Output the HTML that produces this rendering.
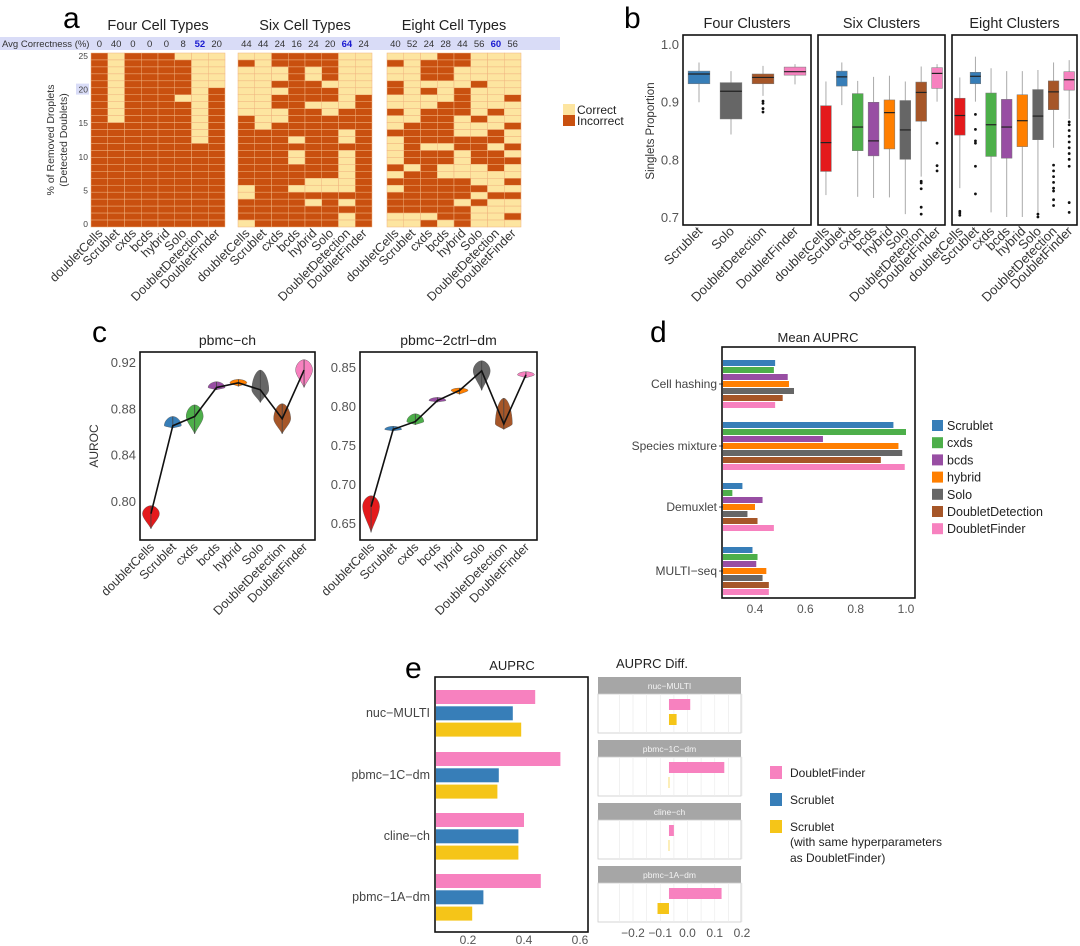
<!DOCTYPE html>
<html><head><meta charset="utf-8">
<style>
html,body{margin:0;padding:0;background:#fff;}
svg{display:block;font-family:"Liberation Sans",sans-serif;}
</style></head>
<body>
<svg id="fig" width="1080" height="946" viewBox="0 0 1080 946" xmlns="http://www.w3.org/2000/svg"></svg>
<script>
// ---------- DATA ----------
const methods = ["doubletCells","Scrublet","cxds","bcds","hybrid","Solo","DoubletDetection","DoubletFinder"];
const methodColors = ["#e41a1c","#377eb8","#4daf4a","#984ea3","#ff7f00","#666666","#a65628","#f781bf"];
// panel a
const heatTitles = ["Four Cell Types","Six Cell Types","Eight Cell Types"];
const avgFour = [0,40,0,0,0,8,52,20];
const avgSix = [44,44,24,16,24,20,64,24];
const avgEight = [40,52,24,28,44,56,60,56];
const heatFour = ["0000000000000000000000000","1111111111000000000000000","0000000000000000000000000","0000000000000000000000000","0000000000000000000000000","1000001000000000000000000","1111111111111000000000000","1111100000000000000000000"];
const heatSix = ["1011111110000000000110001","1111111111100000000000000","0011010011000000000000000","0000000000001011000100000","0011000100000000001101000","0000100110000000001100000","1111111100011011111101011","1111110000000000000000000"];
const heatEight = ["1011001101101111010100011","1111111111000000100000011","1000101100000100000000010","0000111000000100110000001","0011100001110011110001000","1111011110110000111010111","1111111101100100011101111","1111110111011010110101101"];
const heatYTicks = [0,5,10,15,20,25];
// panel b (median, q1, q3, low whisker, high whisker)
const boxFourMethods = [1,5,6,7];
const boxFour = [[.948,.931,.953,.899,.968],[.918,.870,.933,.843,.953],[.942,.931,.948,.91,.962],[.952,.946,.960,.93,.965]];
const outFour = [[],[],[.901,.897,.888,.882],[]];
const boxSix = [[.829,.779,.893,.738,.935],[.943,.927,.953,.894,.968],[.856,.815,.914,.735,.936],[.832,.806,.899,.733,.943],[.881,.818,.903,.734,.945],[.851,.800,.902,.705,.935],[.916,.866,.934,.77,.961],[.949,.923,.959,.90,.965]];
const outSix = [[],[],[],[],[],[],[.762,.759,.749,.717,.705],[.828,.789,.780]];
const boxEight = [[.876,.842,.906,.75,.942],[.944,.931,.951,.9,.978],[.860,.805,.915,.708,.958],[.856,.802,.904,.70,.953],[.867,.822,.912,.70,.953],[.875,.834,.921,.706,.955],[.917,.886,.936,.82,.968],[.938,.920,.952,.87,.972]];
const outEight = [[.71,.707,.703],[.878,.852,.832,.828,.788,.74],[],[],[],[.705,.700],[.79,.78,.77,.76,.75,.745,.73,.72],[.865,.86,.85,.84,.83,.82,.81,.80,.788,.725,.708]];
const boxTicks = [0.7,0.8,0.9,1.0];
// panel c (median, low, high)
const violinCh = [[.789,.776,.796],[.865,.863,.873],[.873,.858,.883],[.898,.896,.903],[.902,.899,.905],[.896,.885,.913],[.871,.858,.884],[.913,.898,.922]];
const violinDm = [[.671,.638,.685],[.770,.768,.774],[.780,.776,.790],[.807,.805,.811],[.820,.815,.823],[.845,.820,.858],[.777,.770,.810],[.840,.836,.844]];
const ticksCh = [0.80,0.84,0.88,0.92];
const ticksDm = [0.65,0.70,0.75,0.80,0.85];
// panel d
const dGroups = ["Cell hashing","Species mixture","Demuxlet","MULTI\u2212seq"];
const dHashing = [.48,.475,.53,.535,.555,.51,.48];
const dSpecies = [.95,1.0,.67,.97,.985,.90,.995];
const dDemuxlet = [.35,.31,.43,.40,.37,.41,.475];
const dMulti = [.39,.41,.405,.445,.43,.455,.455];
const dMethods = [1,2,3,4,5,6,7];
const dTicks = [0.4,0.6,0.8,1.0];
// panel e
const eGroups = ["nuc\u2212MULTI","pbmc\u22121C\u2212dm","cline\u2212ch","pbmc\u22121A\u2212dm"];
const eDoubletFinder = [.44,.53,.40,.46];
const eScrublet = [.36,.31,.38,.255];
const eScrubletSame = [.39,.305,.38,.215];
const eTicks = [0.2,0.4,0.6];
const diffDF = [0.01,0.135,-0.05,0.125];
const diffScrSame = [-0.04,-0.069,-0.069,-0.11];
const diffBase = -0.068;
const diffTicks = [-0.2,-0.1,0.0,0.1,0.2];

// ---------- HELPERS ----------
const NS = "http://www.w3.org/2000/svg";
const svg = document.getElementById("fig");
function el(tag, attrs, parent){
  const e = document.createElementNS(NS, tag);
  for (const k in attrs) e.setAttribute(k, attrs[k]);
  (parent||svg).appendChild(e);
  return e;
}
function txt(s, attrs, parent){
  const e = el("text", attrs, parent);
  e.textContent = s;
  return e;
}
function lin(d0,d1,r0,r1){ return v => r0 + (v-d0)/(d1-d0)*(r1-r0); }

// ---------- PANEL LETTERS ----------
[["a",63,28],["b",624,28],["c",92,342],["d",650,342],["e",405,678]].forEach(p=>{
  const t = txt(p[0], {x:p[1], y:p[2], "font-size":30, fill:"#000"});
  
  
});

// ---------- PANEL A ----------
const strip = el("rect",{x:0,y:37,width:560,height:13,fill:"#d9dcf7"});


const stripLbl = txt("Avg Correctness (%)",{x:2,y:47,"font-size":9.5,fill:"#333"});


const heatX0 = [91,238,387];
const heatW = 134, heatTop = 53, heatBot = 227;
const heatData = [heatFour, heatSix, heatEight];
const avgData = [avgFour, avgSix, avgEight];
const colW = heatW/8, nRows = 25, rowH = (heatBot-heatTop)/nRows;
heatData.forEach((hd,p)=>{
  const g = el("g",{});
  
  
  const tt = txt(heatTitles[p],{x:heatX0[p]+heatW/2, y:30, "text-anchor":"middle","font-size":14.5,fill:"#222"}, g);
  
  
  hd.forEach((col,c)=>{
    for (let r=0;r<nRows;r++){
      const cell = el("rect",{x:heatX0[p]+c*colW, y:heatTop+r*rowH, width:colW, height:rowH,
        fill: col[r]==="1" ? "#fde5a0" : "#c9500f", stroke:"#f0b27e","stroke-width":0.5}, g);
      
      
    }
    const cx = heatX0[p]+(c+0.5)*colW;
    const bold = c===6;
    const av = txt(String(avgData[p][c]),{x:cx,y:47,"text-anchor":"middle","font-size":9.5,
      fill: bold?"#1a1ad0":"#333","font-weight":bold?"bold":"normal"});
    
    
    const xl = txt(methods[c],{x:cx+4,y:234,"text-anchor":"end","font-size":12.5,fill:"#333",
      transform:`rotate(-45 ${cx+4} 234)`}, g);
    
    
  });
});
const hy = lin(0,25,224,56);
const hl = el("rect",{x:76,y:hy(20)-6,width:13,height:11,fill:"#d9dcf7"});


heatYTicks.forEach(v=>{
  const t = txt(String(v),{x:88,y:hy(v)+3,"text-anchor":"end","font-size":8.5,fill:"#444"});
  
  
});
const ay1 = txt("% of Removed Droplets",{x:0,y:0,"text-anchor":"middle","font-size":10.5,fill:"#333",transform:"translate(54 140) rotate(-90)"});


const ay2 = txt("(Detected Doublets)",{x:0,y:0,"text-anchor":"middle","font-size":10.5,fill:"#333",transform:"translate(67 140) rotate(-90)"});


[["#fde5a0","Correct",104],["#c9500f","Incorrect",115]].forEach(l=>{
  const r = el("rect",{x:563,y:l[2],width:12,height:11,fill:l[0]});
  
  
  const t = txt(l[1],{x:577,y:l[2]+10,"font-size":12,fill:"#222"});
  
  
});

// ---------- PANEL B ----------
const by = lin(0.7,1.0,217,44);
const bPanels = [
  {x0:683,x1:811,title:"Four Clusters",data:boxFour,out:outFour,idx:boxFourMethods},
  {x0:818,x1:945,title:"Six Clusters",data:boxSix,out:outSix,idx:[0,1,2,3,4,5,6,7]},
  {x0:952,x1:1077,title:"Eight Clusters",data:boxEight,out:outEight,idx:[0,1,2,3,4,5,6,7]}
];
bPanels.forEach((P,pi)=>{
  const g = el("g",{});
  
  
  const t = txt(P.title,{x:(P.x0+P.x1)/2,y:28,"text-anchor":"middle","font-size":14.5,fill:"#222"},g);
  
  
  const band = (P.x1-P.x0)/P.data.length;
  P.data.forEach((s,i)=>{
    const cx = P.x0 + (i+0.5)*band, bw = band*0.68;
    const m = P.idx[i];
    const w = el("line",{x1:cx,x2:cx,y1:by(s[4]),y2:by(s[3]),stroke:"#aaa","stroke-width":1},g);
    
    
    const b = el("rect",{x:cx-bw/2,y:by(s[2]),width:bw,height:by(s[1])-by(s[2]),fill:methodColors[m],stroke:"#777","stroke-width":0.5},g);
    
    
    const md = el("line",{x1:cx-bw/2,x2:cx+bw/2,y1:by(s[0]),y2:by(s[0]),stroke:"#222","stroke-width":1.2},g);
    
    
    P.out[i].forEach(o=>{
      const c = el("circle",{cx:cx,cy:by(o),r:1.4,fill:"#111"},g);
      
      
    });
    const xl = txt(methods[m],{x:cx+4,y:232,"text-anchor":"end","font-size":13,fill:"#333",transform:`rotate(-45 ${cx+4} 232)`},g);
    
    
  });
  const fr = el("rect",{x:P.x0,y:35,width:P.x1-P.x0,height:190,fill:"none",stroke:"#111","stroke-width":1.6},g);
  
  
});
boxTicks.forEach(v=>{
  const t = txt(v.toFixed(1),{x:679,y:by(v)+5,"text-anchor":"end","font-size":13,fill:"#555"});
  
  
});
const byt = txt("Singlets Proportion",{x:0,y:0,"text-anchor":"middle","font-size":11.5,fill:"#333",transform:"translate(654 131) rotate(-90)"});



// ---------- PANEL C ----------
const cPanels = [
  {x0:140,x1:315,title:"pbmc\u2212ch",data:violinCh,ticks:ticksCh,y:lin(0.80,0.92,501,362),fmt:2},
  {x0:360,x1:537,title:"pbmc\u22122ctrl\u2212dm",data:violinDm,ticks:ticksDm,y:lin(0.65,0.85,523,367),fmt:2}
];
cPanels.forEach((P,pi)=>{
  const g = el("g",{});
  
  
  const t = txt(P.title,{x:(P.x0+P.x1)/2,y:345,"text-anchor":"middle","font-size":14,fill:"#222"},g);
  
  
  const band = (P.x1-P.x0)/8;
  let pts = [];
  P.data.forEach((s,i)=>{
    const cx = P.x0+(i+0.5)*band;
    const yM = P.y(s[0]), yL = P.y(s[1]), yH = P.y(s[2]);
    const hw = 8.5;
    const d = `M${cx},${yH} C${cx+hw*0.5},${yH} ${cx+hw},${(yH+yM)/2} ${cx+hw},${yM} C${cx+hw},${yM+(yL-yM)*0.3} ${cx+2},${yL-(yL-yM)*0.3} ${cx},${yL} C${cx-2},${yL-(yL-yM)*0.3} ${cx-hw},${yM+(yL-yM)*0.3} ${cx-hw},${yM} C${cx-hw},${(yH+yM)/2} ${cx-hw*0.5},${yH} ${cx},${yH}Z`;
    const v = el("path",{d:d,fill:methodColors[i],stroke:"#555","stroke-width":0.4},g);
    
    
    const ln = el("line",{x1:cx,x2:cx,y1:yH,y2:yL,stroke:"#444","stroke-width":0.8},g);
    
    
    pts.push(cx+","+yM);
    const xl = txt(methods[i],{x:cx+4,y:548,"text-anchor":"end","font-size":12.5,fill:"#333",transform:`rotate(-45 ${cx+4} 548)`},g);
    
    
  });
  const pl = el("polyline",{points:pts.join(" "),fill:"none",stroke:"#111","stroke-width":1.6},g);
  
  
  P.ticks.forEach(v=>{
    const tk = txt(v.toFixed(2),{x:P.x0-4,y:P.y(v)+5,"text-anchor":"end","font-size":13,fill:"#555"},g);
    
    
  });
  const fr = el("rect",{x:P.x0,y:352,width:P.x1-P.x0,height:188,fill:"none",stroke:"#111","stroke-width":1.6},g);
  
  
});
const cyt = txt("AUROC",{x:0,y:0,"text-anchor":"middle","font-size":12,fill:"#333",transform:"translate(98 446) rotate(-90)"});



// ---------- PANEL D ----------
const dx = lin(0.4,1.0,755,906);
const dLeft = 723;
const dTitle = txt("Mean AUPRC",{x:818,y:342,"text-anchor":"middle","font-size":13,fill:"#222"});


const dCenters = [384,446,507,571];
[dHashing,dSpecies,dDemuxlet,dMulti].forEach((vals,gi)=>{
  const g = el("g",{});
  
  
  vals.forEach((v,i)=>{
    const y = dCenters[gi] - 3.5*7 + i*7;
    const r = el("rect",{x:dLeft,y:y+0.5,width:dx(v)-dLeft,height:6,fill:methodColors[dMethods[i]]},g);
    
    
  });
  const t = txt(dGroups[gi],{x:717,y:dCenters[gi]+4,"text-anchor":"end","font-size":12,fill:"#444"},g);
  
  
  const tk = el("line",{x1:719,x2:723,y1:dCenters[gi],y2:dCenters[gi],stroke:"#555"},g);
  
  
});
const dFrame = el("rect",{x:722,y:347,width:193,height:251,fill:"none",stroke:"#111","stroke-width":1.6});


dTicks.forEach(v=>{
  const t = txt(v.toFixed(1),{x:dx(v),y:613,"text-anchor":"middle","font-size":12,fill:"#555"});
  
  
});
dMethods.forEach((m,i)=>{
  const y = 420 + i*17.2;
  const r = el("rect",{x:932,y:y,width:11,height:11,fill:methodColors[m]});
  
  
  const t = txt(methods[m],{x:947,y:y+10,"font-size":12.5,fill:"#222"});
  
  
});

// ---------- PANEL E ----------
const ex = lin(0.2,0.6,468,580);
const eLeft = 436;
const eTitle = txt("AUPRC",{x:512,y:670,"text-anchor":"middle","font-size":13,fill:"#222"});


const eCenters = [713,775,836,897];
const eColors = ["#f781bf","#377eb8","#f5c518"];
eGroups.forEach((gname,gi)=>{
  const g = el("g",{});
  
  
  [eDoubletFinder[gi],eScrublet[gi],eScrubletSame[gi]].forEach((v,i)=>{
    const r = el("rect",{x:eLeft,y:eCenters[gi]-23+i*16.3,width:ex(v)-eLeft,height:14,fill:eColors[i]},g);
    
    
  });
  const t = txt(gname,{x:430,y:eCenters[gi]+4,"text-anchor":"end","font-size":12.5,fill:"#444"},g);
  
  
});
const eFrame = el("rect",{x:435,y:677,width:153,height:255,fill:"none",stroke:"#111","stroke-width":1.6});


eTicks.forEach(v=>{
  const t = txt(v.toFixed(1),{x:ex(v),y:944,"text-anchor":"middle","font-size":12,fill:"#555"});
  
  
});
// diff panels
const fx = lin(-0.2,0.2,633,742);
const dTitle2 = txt("AUPRC Diff.",{x:652,y:668,"text-anchor":"middle","font-size":13,fill:"#222"});


const facetTops = [677,740,803,866];
eGroups.forEach((gname,gi)=>{
  const top = facetTops[gi];
  const g = el("g",{});
  
  
  const st = el("rect",{x:598,y:top,width:143,height:17,fill:"#a6a6a6"},g);
  
  
  const sl = txt(gname,{x:669.5,y:top+12,"text-anchor":"middle","font-size":8.5,fill:"#f4f4f4"},g);
  
  
  const bd = el("rect",{x:598,y:top+17,width:143,height:39,fill:"#fff",stroke:"#ccc","stroke-width":0.8},g);
  
  
  for (let v=-0.25; v<=0.2001; v+=0.05){
    const gl = el("line",{x1:fx(v),x2:fx(v),y1:top+17,y2:top+56,stroke:"#ececec","stroke-width":0.7},g);
    
    
  }
  const a = diffDF[gi], b = diffScrSame[gi];
  const r1 = el("rect",{x:Math.min(fx(diffBase),fx(a)),y:top+22,width:Math.max(0.6,Math.abs(fx(a)-fx(diffBase))),height:11,fill:"#f781bf"},g);
  
  
  const r2 = el("rect",{x:Math.min(fx(diffBase),fx(b)),y:top+37,width:Math.max(0.6,Math.abs(fx(b)-fx(diffBase))),height:11,fill:"#f5c518"},g);
  
  
});
diffTicks.forEach(v=>{
  const t = txt(v.toFixed(1).replace("-","\u2212"),{x:fx(v),y:937,"text-anchor":"middle","font-size":12,fill:"#555"});
  
  
});
[["#f781bf","DoubletFinder",767],["#377eb8","Scrublet",794],["#f5c518","Scrublet",821]].forEach((l,i)=>{
  const r = el("rect",{x:770,y:l[2]-1,width:12,height:13,fill:l[0]});
  
  
  const t = txt(l[1],{x:790,y:l[2]+10,"font-size":12,fill:"#222"});
  
  
});
const el2 = txt("(with same hyperparameters",{x:790,y:846,"font-size":12,fill:"#222"});


const el3 = txt("as DoubletFinder)",{x:790,y:862,"font-size":12,fill:"#222"});


</script>
</body></html>
